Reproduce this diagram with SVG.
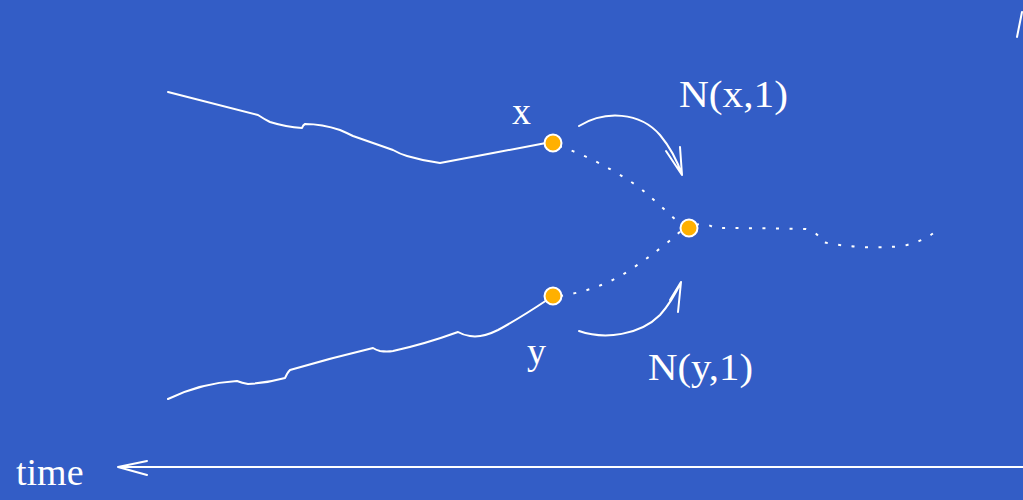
<svg xmlns="http://www.w3.org/2000/svg" width="1023" height="500" viewBox="0 0 1023 500">
<style>
.bg{fill:#335dc6}
.line{fill:none;stroke:#fff;stroke-width:2;stroke-linecap:round;stroke-linejoin:round}
.dot{fill:none;stroke:#fff;stroke-width:2;stroke-dasharray:3 10.5}
.node{fill:#ffb000;stroke:#fff;stroke-width:2}
.lbl{font-family:"Liberation Serif","Times New Roman",serif;font-size:38px;fill:#fff}
</style>
<rect class="bg" x="0" y="0" width="1023" height="500"/>
<g id="connectors">
<path id="path-x" class="line" d="M168,92 L258,115 Q264,119 270,122 Q286,127 302,128 Q303,125 305,124 Q322,124 340,130 Q347,133 353,136 L393,150 Q400,154 407,156 Q424,161 440,163 Q467,158 493,153 L546,143"/>
<path id="path-y" class="line" d="M168,399 Q201,383 237,381 Q242,383 248,384 Q267,383 285,378 Q286,376 287,374 Q288,372 290,370 Q331,358 373,348 Q376,350 380,351 Q387,352 393,351 Q425,344 458,332 Q463,335 470,336 Q482,338 498,330 Q520,318 547,300"/>
<path id="dot-x" class="dot" d="M559,146 Q600,160 640,188 Q660,205 680,224"/>
<path id="dot-y" class="dot" d="M560,296 Q600,290 630,270 Q660,250 682,230"/>
<path id="dot-out" class="dot" d="M696,225 Q704,222 715,228 Q760,228 806,229 Q818,232 822,242 Q860,250 903,246 Q928,240 938,229"/>
<path id="arc-x" class="line" d="M579,126 C605,110 640,112 660,135 C670,147 677,160 682,175 M666,151 L682,175 L680,147"/>
<path id="arc-y" class="line" d="M579,331 C605,340 640,335 660,315 C668,306 675,295 681,282 M670,300 L681,282 L678,312"/>
<path id="time-axis" class="line" d="M1023,467 L118,467 M147,461 L118,467 L147,475"/>
<path id="edge-slash" class="line" d="M1017,37 L1022,12"/>
</g>
<g id="node-x"><circle class="node" cx="553" cy="143" r="8.5"/></g>
<g id="node-y"><circle class="node" cx="553" cy="296" r="8.5"/></g>
<g id="node-z"><circle class="node" cx="689" cy="228" r="8.5"/></g>
<g id="labels">
<text class="lbl" x="512" y="124">x</text>
<text class="lbl" x="679" y="107" textLength="109" lengthAdjust="spacingAndGlyphs">N(x,1)</text>
<text class="lbl" x="527" y="364">y</text>
<text class="lbl" x="648" y="380" textLength="105" lengthAdjust="spacingAndGlyphs">N(y,1)</text>
<text class="lbl" x="16" y="485">time</text>
</g>
</svg>
